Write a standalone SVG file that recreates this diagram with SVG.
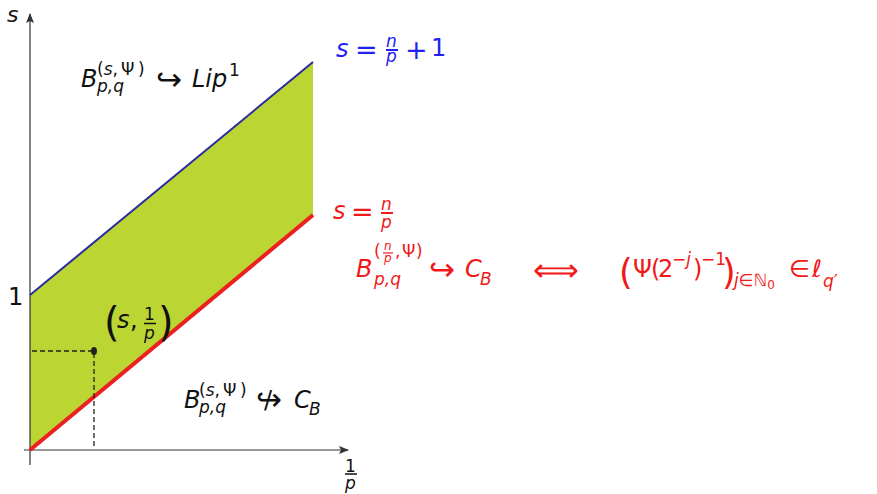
<svg xmlns="http://www.w3.org/2000/svg" width="877" height="494" viewBox="0 0 877 494">
<defs>
<marker id="arr" viewBox="0 0 10 8" refX="9" refY="4" markerWidth="10" markerHeight="8" markerUnits="userSpaceOnUse" orient="auto">
<path d="M0,0 L10,4 L0,8 L2,4 Z" fill="#333"/>
</marker>
<style>
text{font-family:"DejaVu Sans","Liberation Sans",sans-serif;font-size:24px}
.i{font-style:italic}
.s{font-size:17px}
.ss{font-size:12px}
.blk{fill:#111}
.blu{fill:#2222f0}
.red{fill:#f01818}
.ar{font-size:31px;font-family:"DejaVu Sans ExtraLight","DejaVu Sans",sans-serif;font-weight:200}
.op{font-size:27px}
.ax{stroke:#333;stroke-width:1.2;fill:none}
.dash{stroke:#222;stroke-width:1.3;stroke-dasharray:5,3;fill:none}
</style>
</defs>
<g id="region">
<polygon points="30,450 313,215 313,62 30,295" fill="#bbd532"/>
</g>
<g id="connectors">
<line class="ax" x1="30" y1="465" x2="30" y2="14" marker-end="url(#arr)"/>
<line class="ax" x1="24" y1="450" x2="348" y2="450" marker-end="url(#arr)"/>
<line x1="30" y1="295" x2="313" y2="62" stroke="#2b2ba0" stroke-width="2"/>
<line x1="30" y1="450" x2="313" y2="215" stroke="#ec2020" stroke-width="4"/>
<line class="dash" x1="32" y1="351" x2="92" y2="351"/>
<line class="dash" x1="94" y1="353" x2="94" y2="449"/>
</g>
<g id="point">
<ellipse cx="94" cy="351" rx="3" ry="4" fill="#222"/>
<text class="blk" x="104" y="336" style="font-size:40px">(</text>
<text class="blk i" x="117" y="328">s</text>
<text class="blk" x="130" y="328">,</text>
<text class="blk s" x="144" y="320">1</text>
<line x1="144" y1="323.5" x2="156" y2="323.5" stroke="#111" stroke-width="1.5"/>
<text class="blk s i" x="144" y="339">p</text>
<text class="blk" x="158" y="336" style="font-size:40px">)</text>
</g>
<g id="axis-labels">
<text class="blk i" x="7" y="22" style="font-size:22px">s</text>
<text class="blk" x="8" y="305">1</text>
<text class="blk s" x="345" y="472">1</text>
<line x1="345" y1="474" x2="357" y2="474" stroke="#111" stroke-width="1.5"/>
<text class="blk s i" x="345" y="489">p</text>
</g>
<g id="label-lip">
<text class="blk i" x="81" y="87">B</text>
<text class="blk s" x="97" y="75">(<tspan class="i">s</tspan>,<tspan x="121">Ψ</tspan><tspan x="138">)</tspan></text>
<text class="blk s i" x="97" y="92">p,q</text>
<text class="blk ar" x="156" y="90">↪</text>
<text class="blk i" x="192" y="87">Lip</text>
<text class="blk s" x="229" y="76">1</text>
</g>
<g id="label-blue">
<text class="blu i" x="336" y="57">s</text>
<text class="blu op" x="355" y="59">=</text>
<text class="blu s i" x="386" y="47">n</text>
<line x1="386" y1="50" x2="398" y2="50" stroke="#2222f0" stroke-width="2"/>
<text class="blu s i" x="386" y="62">p</text>
<text class="blu op" x="405" y="59">+</text>
<text class="blu" x="431" y="56">1</text>
</g>
<g id="label-red">
<text class="red i" x="333" y="219">s</text>
<text class="red op" x="351" y="221">=</text>
<text class="red s i" x="381" y="210">n</text>
<line x1="381" y1="213" x2="393" y2="213" stroke="#f01818" stroke-width="2"/>
<text class="red s i" x="381" y="228">p</text>
<text class="red i" x="356" y="277">B</text>
<text class="red s" x="374" y="257">(</text>
<text class="red ss i" x="384" y="250">n</text>
<line x1="383" y1="253" x2="393" y2="253" stroke="#f01818" stroke-width="1.2"/>
<text class="red ss i" x="384" y="262">p</text>
<text class="red s" x="395" y="257">,</text>
<text class="red s" x="402" y="257">Ψ</text>
<text class="red s" x="416" y="257">)</text>
<text class="red s i" x="374" y="285">p,q</text>
<text class="red ar" x="429" y="280">↪</text>
<text class="red i" x="465" y="277">C</text>
<text class="red s i" x="480" y="285">B</text>
<text class="red ar" x="533" y="281" style="font-size:32px">⟺</text>
<text class="red" x="619" y="284" style="font-size:35px">(</text>
<text class="red" x="633" y="277">Ψ</text>
<text class="red" x="651" y="277">(</text>
<text class="red" x="658" y="277">2</text>
<text class="red s" x="672" y="265">−<tspan class="i">j</tspan></text>
<text class="red" x="693" y="277">)</text>
<text class="red s" x="701" y="265">−1</text>
<text class="red" x="722" y="284" style="font-size:35px">)</text>
<text class="red s" x="734" y="286"><tspan class="i">j</tspan>∈ℕ<tspan class="ss" dy="3">0</tspan></text>
<text class="red" x="789" y="277">∈</text>
<text class="red i" x="812" y="277">ℓ</text>
<text class="red s i" x="823" y="287">q′</text>
</g>
<g id="label-notcb">
<text class="blk i" x="184" y="408">B</text>
<text class="blk s" x="199" y="396">(<tspan class="i">s</tspan>,<tspan x="223">Ψ</tspan><tspan x="240">)</tspan></text>
<text class="blk s i" x="199" y="413">p,q</text>
<text class="blk ar" x="256" y="410">↪</text>
<text class="blk" x="264" y="408">/</text>
<text class="blk i" x="294" y="408">C</text>
<text class="blk s i" x="309" y="415">B</text>
</g>
</svg>
